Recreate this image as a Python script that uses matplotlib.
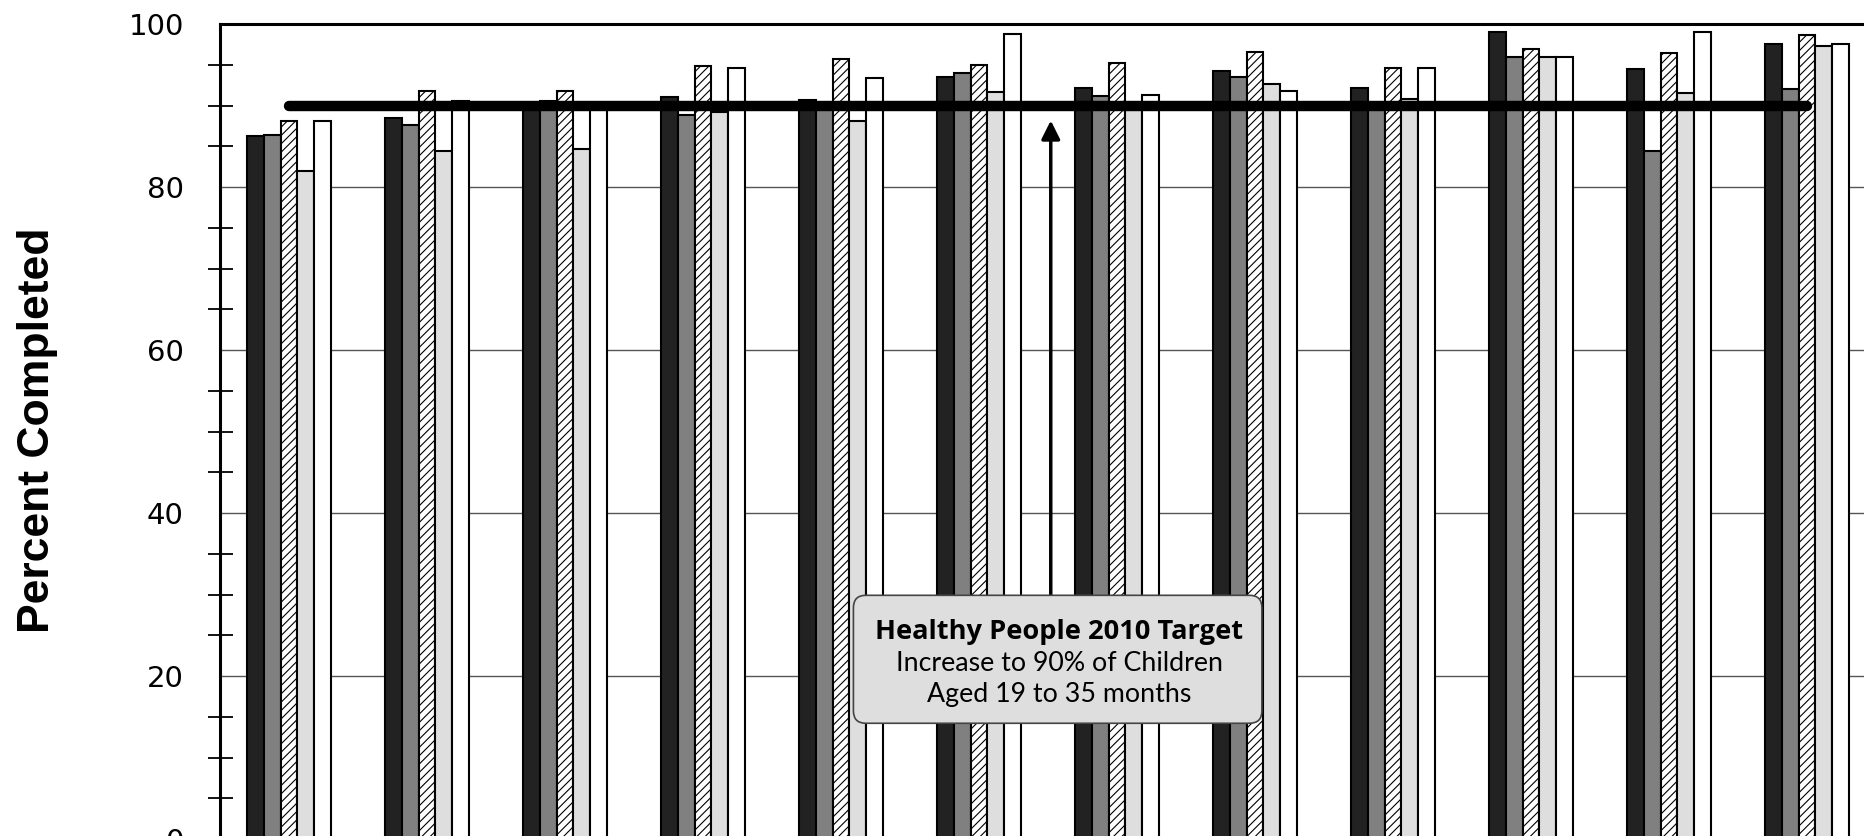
import matplotlib.pyplot as plt
from matplotlib.patches import FancyBboxPatch

# bar heights (5 series per group, 12 groups visible)
series_dark = [86.2, 88.5, 90.2, 91.0, 90.7, 93.5, 92.1, 94.2, 92.1, 99.0, 94.5, 97.5]
series_grey = [86.4, 87.6, 90.6, 88.8, 89.8, 94.0, 91.2, 93.5, 90.0, 95.9, 84.4, 92.0]
series_hatch = [88.1, 91.8, 91.8, 94.8, 95.7, 95.0, 95.2, 96.6, 94.6, 96.9, 96.4, 98.7]
series_light = [82.0, 84.4, 84.7, 89.2, 88.1, 91.6, 89.8, 92.6, 90.8, 95.9, 91.5, 97.3]
series_white = [88.1, 90.5, 90.0, 94.6, 93.4, 98.8, 91.3, 91.8, 94.6, 96.0, 99.0, 97.5]
TARGET = 90

plt.rcParams['hatch.linewidth'] = 0.8

fig = plt.figure(figsize=(18.64, 8.36), dpi=100)
ax = fig.add_axes([220 / 1864, -3 / 836, 1794 / 1864, 815 / 836])

x = list(range(len(series_dark)))
w = 0.121
styles = [
    (series_dark, '#222222', ''),
    (series_grey, '#808080', ''),
    (series_hatch, 'white', '////'),
    (series_light, '#dedede', ''),
    (series_white, 'white', ''),
]
for k, (vals, col, hatch) in enumerate(styles):
    ax.bar([i + (k - 2) * w for i in x], vals, width=w, color=col, hatch=hatch,
           edgecolor='black', linewidth=1.5, zorder=2)

# target line
ax.plot([x[0], x[-1]], [TARGET, TARGET], color='black', lw=7.5,
        solid_capstyle='round', zorder=3)

ax.set_xlim(-0.5, 12.5)
ax.set_ylim(0, 100)
ax.set_xticks([])
ax.set_yticks(range(0, 101, 20))
ax.set_yticks([v for v in range(5, 100, 5) if v % 20], minor=True)
ax.tick_params(axis='y', which='major', length=0, pad=26, labelsize=21)
ax.tick_params(axis='y', which='minor', direction='inout', length=18, width=1.3)
for t in ax.yaxis.get_minor_ticks():
    if t.get_loc() % 10 == 0:
        t.tick1line.set_color('#777777')
ax.yaxis.grid(True, which='major', color='#555555', lw=1)
ax.set_axisbelow(True)
for s in ['top', 'left', 'bottom', 'right']:
    ax.spines[s].set_linewidth(2.2)

fig.text(38 / 1864, 1 - 430 / 836, 'Percent Completed', rotation=90,
         ha='center', va='center', fontsize=32, fontweight='bold',
         family='Liberation Sans')

# annotation box with arrow to target line
ax.annotate('', xy=(5.52, 88.5), xytext=(5.52, 29.5),
            arrowprops=dict(arrowstyle='-|>', lw=2.5, color='black',
                            mutation_scale=28), zorder=4)
box = FancyBboxPatch((4.09, 14.2), 2.96, 15.7,
                     boxstyle='round,pad=0,rounding_size=0.09',
                     mutation_aspect=138 / 8.15,
                     facecolor='#dedede', edgecolor='#444444', lw=1.2, zorder=5)
ax.add_patch(box)
ax.text(5.58, 24.5, 'Healthy People 2010 Target', ha='center', va='baseline',
        fontsize=19.6, fontweight='bold', family='Open Sans', zorder=6)
ax.text(5.58, 20.6, 'Increase to 90% of Children', ha='center', va='baseline',
        fontsize=19.3, family='Lato', zorder=6)
ax.text(5.58, 16.8, 'Aged 19 to 35 months', ha='center', va='baseline',
        fontsize=19.3, family='Lato', zorder=6)

fig.savefig('out.png', dpi=100)
